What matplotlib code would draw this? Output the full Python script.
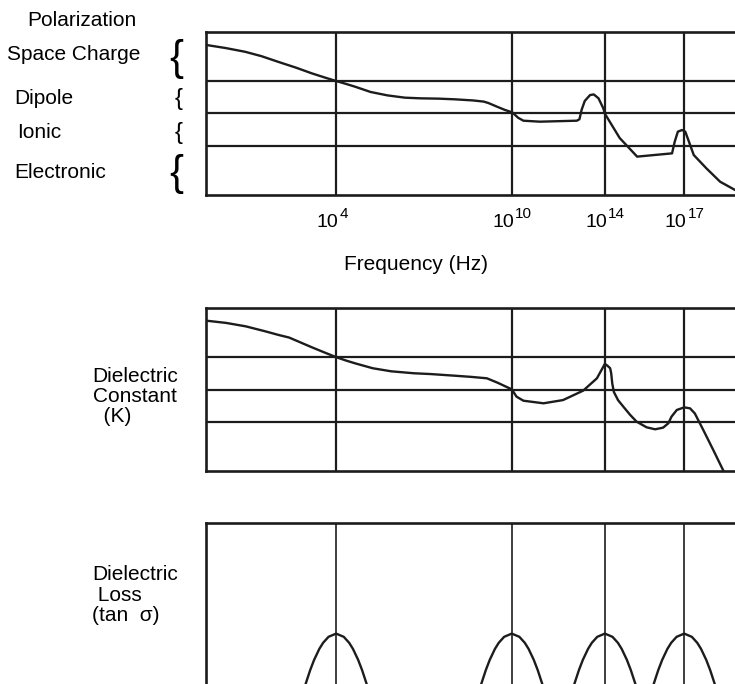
import numpy as np
import matplotlib
matplotlib.use("Agg")
import matplotlib.pyplot as plt
import matplotlib.transforms as mtransforms

plt.rcParams['font.family'] = ['Liberation Sans', 'DejaVu Sans']

INK = '#1c1c1c'
W, H = 735, 684

# schematic frequency axis, 0..100 across each panel
freq_pos = [24.6, 57.8, 75.4, 90.4]
freq_exp = ['4', '10', '14', '17']
levels = [3, 5, 7]

# polarization contributions
polar_x = [0.0, 3.7, 7.4, 10.5, 13.6, 17.0, 20.0, 22.4, 24.6, 26.5, 28.2,
           31.1, 34.3, 37.6, 40.5, 44.0, 47.0, 50.5, 52.5, 53.4, 55.0, 56.5,
           57.9, 59.0, 60.0, 63.1, 70.1, 70.6, 71.0, 71.6, 72.6, 73.3, 74.2,
           75.1, 75.4, 78.2, 81.5, 88.1, 88.6, 89.2, 90.0, 90.6, 91.3, 92.2,
           94.6, 97.2, 100.0]
polar_y = [9.19, 9.00, 8.77, 8.50, 8.16, 7.80, 7.45, 7.20, 6.98, 6.80, 6.63,
           6.31, 6.10, 5.96, 5.92, 5.90, 5.86, 5.79, 5.72, 5.63, 5.41, 5.21,
           5.06, 4.73, 4.55, 4.49, 4.55, 4.64, 5.21, 5.76, 6.12, 6.16, 5.92,
           5.31, 4.98, 3.49, 2.35, 2.55, 3.26, 3.88, 3.98, 3.88, 3.26, 2.45,
           1.63, 0.81, 0.31]

# dielectric constant K
k_x = [0.0, 3.8, 7.5, 11.0, 13.7, 15.7, 18.0, 20.0, 22.4, 24.7, 26.5, 28.2,
       31.5, 35.0, 39.3, 42.5, 47.0, 50.0, 53.1, 55.1, 57.8, 58.7, 60.0,
       63.8, 67.5, 71.3, 73.9, 75.1, 75.4, 75.9, 76.4, 76.6, 76.8, 77.1,
       77.9, 78.9, 80.2, 81.4, 83.3, 84.9, 86.4, 87.4, 88.0, 89.0, 90.4,
       91.5, 92.4, 94.0, 95.9, 97.8]
k_y = [9.24, 9.10, 8.89, 8.60, 8.36, 8.20, 7.88, 7.60, 7.28, 6.98, 6.78,
       6.61, 6.31, 6.12, 6.00, 5.95, 5.85, 5.78, 5.69, 5.42, 5.01, 4.56,
       4.31, 4.15, 4.35, 4.93, 5.69, 6.40, 6.58, 6.46, 6.31, 5.99, 5.37,
       4.85, 4.34, 3.94, 3.43, 3.02, 2.67, 2.55, 2.65, 2.92, 3.33, 3.74,
       3.90, 3.84, 3.53, 2.51, 1.27, 0.0]

# loss peak profile, offset from each relaxation frequency
loss_dx = [0.0, 1.44, 2.46, 3.18, 4.16, 4.91, 5.77]
loss_h = [3.13, 2.93, 2.56, 2.18, 1.50, 0.86, 0.0]


def px(x, y):
    return x / W, 1 - y / H


fig = plt.figure(figsize=(7.35, 6.84), dpi=100)
left = 206 / W
ax1 = fig.add_axes([left, 1 - 195 / H, 1 - left, 163.3 / H])
ax2 = fig.add_axes([left, 1 - 470.7 / H, 1 - left, 162.4 / H])
ax3 = fig.add_axes([left, 0, 1 - left, 161 / H])

for ax in (ax1, ax2, ax3):
    ax.set_xlim(0, 100)
    ax.set_ylim(0, 10)
    ax.set_xticks([])
    ax.set_yticks([])
    ax.spines['right'].set_visible(False)
    for s in ax.spines.values():
        s.set_linewidth(1.9)
        s.set_color(INK)
    for p in freq_pos:
        ax.axvline(p, color=INK, lw=1.6 if ax is not ax3 else 1.2)

for ax in (ax1, ax2):
    for lv in levels:
        ax.axhline(lv, color=INK, lw=1.6)
ax3.spines['bottom'].set_visible(False)

ax1.plot(polar_x, polar_y, color=INK, lw=1.7, solid_joinstyle='round')
ax2.plot(k_x, k_y, color=INK, lw=1.7, solid_joinstyle='round')

dx = np.array(loss_dx)
hh = np.array(loss_h)
for p in freq_pos:
    ax3.plot(np.r_[p - dx[::-1], p + dx[1:]], np.r_[hh[::-1], hh[1:]],
             color=INK, lw=1.7)

# frequency labels: "10" left of each line, exponent raised to the right
base = mtransforms.blended_transform_factory(ax1.transData, fig.transFigure)
t_base = mtransforms.offset_copy(base, fig=fig, x=2, y=0, units='dots')
t_exp = mtransforms.offset_copy(base, fig=fig, x=3.5, y=0, units='dots')
for p, e in zip(freq_pos, freq_exp):
    ax1.text(p, 1 - 227 / H, '10', transform=t_base, fontsize=14,
             ha='right', va='baseline')
    ax1.text(p, 1 - 218 / H, e, transform=t_exp, fontsize=11,
             ha='left', va='baseline')

fig.text(*px(416.5, 270), 'Frequency (Hz)', fontsize=15, ha='center', va='baseline')

# polarization mechanisms
fig.text(*px(27, 26), 'Polarization', fontsize=15, va='baseline')
mech = [('Space Charge', 7, 60), ('Dipole', 14, 104.3),
        ('Ionic', 16.7, 137.7), ('Electronic', 14, 178.3)]
for name, x, y in mech:
    fig.text(*px(x, y), name, fontsize=15, va='baseline')
braces = [(176.5, 59, 30), (179, 99, 17), (179, 132.5, 17), (176.5, 173.5, 30)]
for x, y, fs in braces:
    fig.text(*px(x, y), '{', fontsize=fs, ha='center', va='center')

for txt, x, y in [('Dielectric', 92.5, 381.7), ('Constant', 92.5, 401.7),
                  ('  (K)', 92.5, 421.7), ('Dielectric', 92.5, 580),
                  (' Loss', 92.5, 600.7), ('(tan  σ)', 92, 621)]:
    fig.text(*px(x, y), txt, fontsize=15, va='baseline')

fig.savefig('out.png', dpi=100)
